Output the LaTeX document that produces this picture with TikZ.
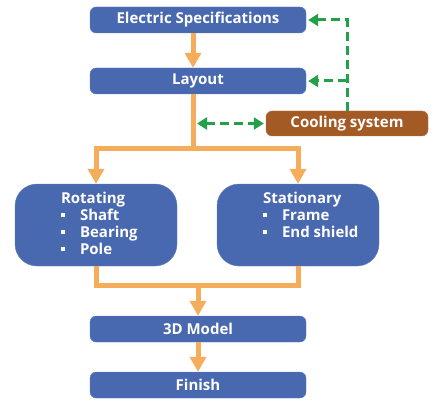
\documentclass[tikz,border=0pt]{standalone}
\usepackage{fontspec}
\setmainfont{Open Sans}
\usetikzlibrary{positioning, arrows.meta, calc}
\definecolor{boxblue}{HTML}{4868B0}
\definecolor{flowors}{HTML}{F5AD5B}
\definecolor{coolbrown}{HTML}{A35A24}
\definecolor{loopgreen}{HTML}{22A04A}
\newcommand\sqitem[1]{\makebox[19pt][l]{\raisebox{3.2pt}{\rule{4pt}{4pt}}}#1}

\begin{document}
\begin{tikzpicture}[x=1pt, y=-1pt,
    stage/.style={rectangle, rounded corners=6pt, minimum width=216pt, minimum height=26pt, text centered, draw=boxblue!85!white, fill=boxblue, text=white, font=\bfseries\fontsize{15}{16}\selectfont, inner sep=0pt},
    part/.style={rectangle, rounded corners=22pt, minimum width=162pt, minimum height=82pt, draw=boxblue!85!white, fill=boxblue},
    partlist/.style={align=left, text=white, font=\bfseries\fontsize{15}{17}\selectfont, inner sep=0pt},
    cooler/.style={rectangle, rounded corners=6pt, minimum width=162pt, minimum height=25pt, text centered, draw=coolbrown!85!white, fill=coolbrown, text=white, font=\bfseries\fontsize{15}{16}\selectfont, inner sep=0pt},
    flow/.style={flowors, line width=5pt},
    flowarrow/.style={flow, -{Triangle[width=16pt,length=15pt]}},
    feedback/.style={loopgreen, line width=3pt, dash pattern=on 9pt off 5pt, -{Triangle[width=12pt,length=10pt]}, shorten >=2pt},
]
\useasboundingbox (0,0) rectangle (438,406);

% Nodes
\node[stage] (elec) at (198,20) {Electric Specifications};
\node[stage] (layout) at (198,81) {Layout};
\node[cooler] (cool) at (347,123.5) {Cooling system};
\node[part] (rot) at (96,225) {};
\node[part] (stat) at (298,225) {};
\node[partlist, anchor=north west] (rotlist) at ([xshift=46pt,yshift=-8pt]rot.north west)
    {Rotating\\\sqitem{Shaft}\\\sqitem{Bearing}\\\sqitem{Pole}};
\node[partlist, anchor=north west] (statlist) at ([xshift=46pt,yshift=-8pt]stat.north west)
    {Stationary\\\sqitem{Frame}\\\sqitem{End shield}};
\node[stage] (model) at (198,329) {3D Model};
\node[stage] (finish) at (198,385) {Finish};

\coordinate (split) at (193,148);
\coordinate (merge) at (198,285);
\coordinate (tap) at (196,123.5);

% Connections
\draw[flowarrow] ([xshift=-5pt]elec.south) -- ([xshift=-5pt]layout.north);
\draw[flow] ([xshift=-5pt]layout.south) -- (split);
\draw[flowarrow] (split) -| (rot.north);
\draw[flowarrow] (split) -| (stat.north);
\draw[flow] (rot.south) |- (merge) -| (stat.south);
\draw[flowarrow] (merge) -- (model.north);
\draw[flowarrow] (model) -- (finish);

% Cooling feedback
\draw[feedback] (cool.north) -- (cool.north |- elec.east) -- (elec.east);
\draw[feedback] (cool.north |- layout.east) -- (layout.east);
\draw[feedback, {Triangle[width=12pt,length=10pt]}-{Triangle[width=12pt,length=10pt]}, shorten <=1pt] (tap) -- (cool.west);

\end{tikzpicture}
\end{document}
